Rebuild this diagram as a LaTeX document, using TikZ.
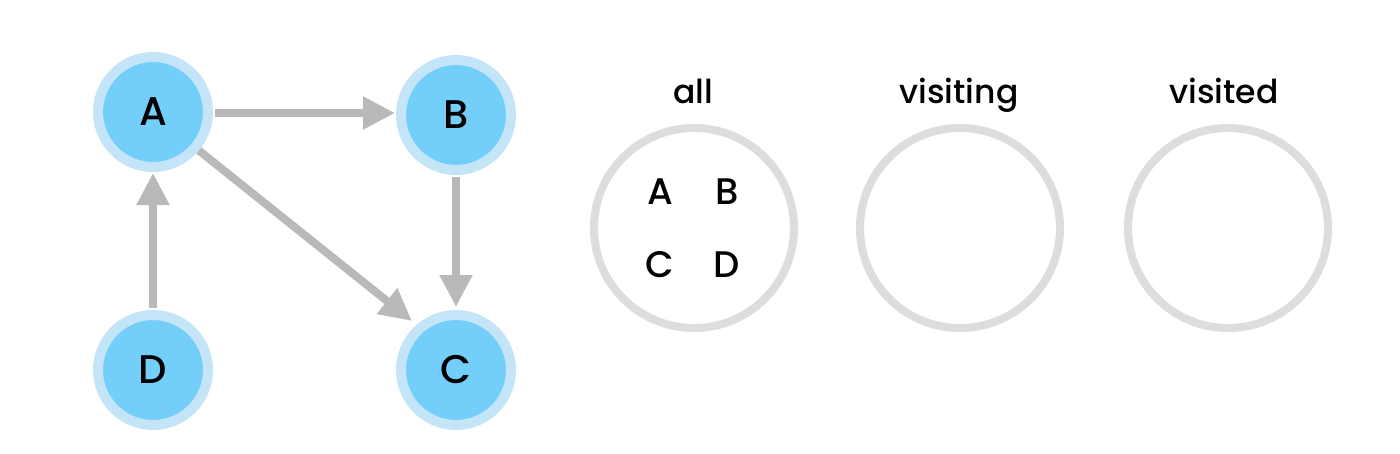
\documentclass[tikz,border=0pt]{standalone}
\usepackage{fontspec}
\setmainfont{Poppins}[UprightFont=* Medium]
\usetikzlibrary{arrows.meta}
\definecolor{nodefill}{HTML}{74CEFA}
\definecolor{noderim}{HTML}{C4E4F7}
\definecolor{edgegray}{HTML}{B9B9B9}
\definecolor{setgray}{HTML}{DDDDDD}
\begin{document}
\begin{tikzpicture}[x=1pt,y=-1pt,
  vertex/.style={circle, fill=nodefill, draw=noderim, line width=10pt,
    minimum size=110pt, inner sep=0pt, font=\fontsize{40}{42}\selectfont},
  edge/.style={draw=edgegray, line width=8pt,
    -{Triangle[length=32pt,width=31pt]}},
  setcircle/.style={circle, draw=setgray, line width=8pt,
    minimum size=200pt, inner sep=0pt},
  setlabel/.style={anchor=base, font=\fontsize{33}{35}\selectfont},
  member/.style={font=\fontsize{37}{39}\selectfont}]
\useasboundingbox (0,0) rectangle (1400,453);
% graph
\node[vertex] (A) at (153,112) {A};
\node[vertex] (B) at (456,115) {B};
\node[vertex] (C) at (456,370) {C};
\node[vertex] (D) at (153,370) {D};
\draw[edge, shorten <=2pt, shorten >=1pt] ([yshift=-1pt]A.east) -- ([yshift=-1pt]A.east -| B.west);
\draw[edge, shorten <=2pt, shorten >=3pt] (B) -- (C);
\draw[edge, shorten <=2pt, shorten >=1pt] (D) -- (A);
\draw[edge, shorten >=6pt] (A.-40) -- (C.131);
% sets
\node[setlabel] (lall) at (693,103) {all};
\node[setlabel] (lvisiting) at (959,103) {visiting};
\node[setlabel] (lvisited) at (1224,103) {visited};
\node[setcircle] (sall) at (694,228) {};
\node[setcircle] (svisiting) at (960,228) {};
\node[setcircle] (svisited) at (1228,228) {};
\node[member] (mA) at (660,192) {A};
\node[member] (mB) at (727,192) {B};
\node[member] (mC) at (660,265) {C};
\node[member] (mD) at (727,265) {D};
\end{tikzpicture}
\end{document}
